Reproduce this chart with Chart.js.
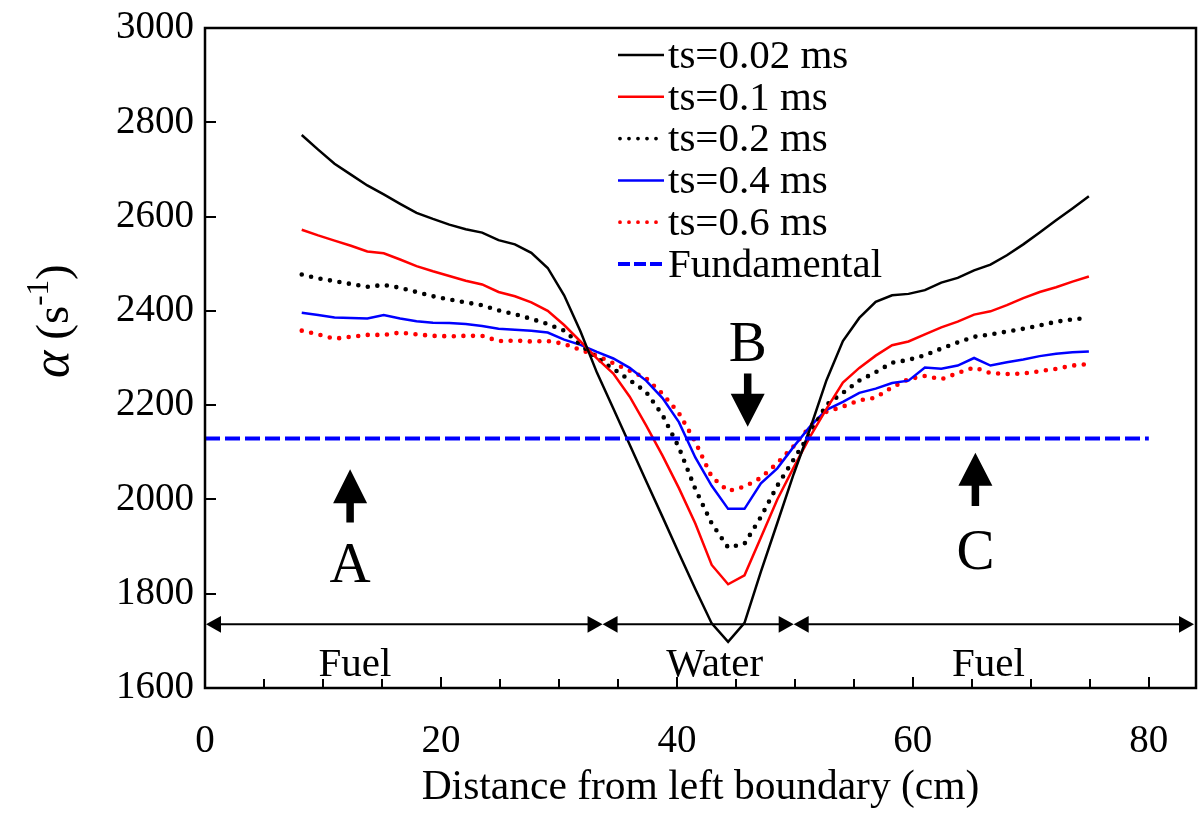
<!DOCTYPE html>
<html>
<head>
<meta charset="utf-8">
<script src="https://cdn.jsdelivr.net/npm/chart.js@4.4.0/dist/chart.umd.min.js"></script>
<style>
html, body { margin: 0; padding: 0; background: #fff; }
canvas { display: block; }
</style>
</head>
<body>
<canvas id="chart" width="1198" height="815"></canvas>
<script>
// positions along the core (cm)
const xCm = [8.2, 9.59, 10.98, 12.37, 13.76, 15.15, 16.54, 17.93, 19.32, 20.71, 22.1, 23.49, 24.88,
    26.27, 27.66, 29.05, 30.44, 31.83, 33.22, 34.61, 36.0, 37.39, 38.78, 40.17, 41.56, 42.95, 44.34,
    45.73, 47.12, 48.51, 49.9, 51.29, 52.68, 54.07, 55.46, 56.85, 58.24, 59.63, 61.02, 62.41, 63.8,
    65.19, 66.58, 67.97, 69.36, 70.75, 72.14, 73.53, 74.92];

const ts002 = [2773, 2742, 2712, 2689, 2666, 2647, 2627, 2608, 2595, 2583, 2573, 2566, 2550,
    2541, 2523, 2491, 2433, 2356, 2269, 2193, 2116, 2039, 1963, 1886, 1810, 1737, 1698,
    1738, 1847, 1950, 2054, 2150, 2253, 2336, 2385, 2419, 2433, 2436, 2444, 2460, 2470,
    2486, 2498, 2518, 2541, 2566, 2592, 2617, 2643];
const ts01 = [2572, 2560, 2549, 2538, 2526, 2522, 2509, 2495, 2484, 2474, 2464, 2456, 2440,
    2431, 2418, 2400, 2370, 2335, 2299, 2267, 2218, 2157, 2093, 2024, 1949, 1861, 1820,
    1839, 1919, 2000, 2068, 2133, 2192, 2248, 2279, 2305, 2327, 2335, 2350, 2365, 2377,
    2392, 2399, 2412, 2427, 2440, 2450, 2462, 2473];
const ts02 = [2477, 2469, 2463, 2457, 2451, 2455, 2449, 2440, 2431, 2424, 2418, 2412, 2401,
    2393, 2383, 2372, 2358, 2328, 2300, 2277, 2253, 2228, 2179, 2110, 2022, 1949, 1898,
    1906, 1963, 2029, 2085, 2140, 2201, 2226, 2252, 2270, 2290, 2296, 2306, 2320, 2333,
    2345, 2350, 2356, 2362, 2369, 2377, 2382, 2385];
const ts04 = [2396, 2391, 2386, 2385, 2384, 2391, 2384, 2378, 2375, 2374, 2372, 2368, 2362,
    2360, 2358, 2354, 2339, 2328, 2313, 2299, 2279, 2252, 2215, 2164, 2089, 2029, 1980,
    1980, 2034, 2066, 2112, 2155, 2190, 2207, 2226, 2235, 2247, 2252, 2280, 2277, 2284,
    2300, 2284, 2291, 2297, 2304, 2309, 2312, 2314];
const ts06 = [2358, 2350, 2341, 2345, 2349, 2349, 2354, 2350, 2347, 2346, 2347, 2347, 2336,
    2337, 2335, 2336, 2330, 2317, 2305, 2289, 2273, 2257, 2224, 2183, 2122, 2048, 2018,
    2027, 2046, 2077, 2113, 2155, 2186, 2197, 2210, 2216, 2238, 2255, 2262, 2255, 2268,
    2280, 2268, 2266, 2267, 2272, 2277, 2284, 2287];
const fundamentalX = [0, 80];
const fundamentalY = [2129, 2129];

const xTickValues = [0, 5, 10, 15, 20, 25, 30, 35, 40, 45, 50, 55, 60, 65, 70, 75, 80];
const yTickValues = [1600, 1800, 2000, 2200, 2400, 2600, 2800, 3000];

// annotations
const regionBounds = [0, 33.7, 49.9, 84];
const regionNames = ['Fuel', 'Water', 'Fuel'];
const regionLabelX = [12.7, 43.2, 66.4];
const regionLineY = 1735;
const regionLabelY = 1626;
const markerNames = ['A', 'B', 'C'];
const markerX = [12.3, 46.0, 65.3];
const markerTextY = [1825, 2294, 1852];
const arrowTipY = [2064, 2154, 2099];
const arrowBaseY = [1992, 2224, 2029];
const arrowTailY = [1951, 2267, 1986];

const FONT = '"Liberation Serif", "Times New Roman", serif';

function pts(xs, ys) {
    return xs.map((x, i) => ({ x: x, y: ys[i] }));
}

const dotted = [0, 9.6];

const datasets = [
    { label: 'ts=0.02 ms', data: pts(xCm, ts002), borderColor: '#000000', borderWidth: 2.5, borderDash: [] },
    { label: 'ts=0.1 ms', data: pts(xCm, ts01), borderColor: '#ff0000', borderWidth: 2.5, borderDash: [] },
    { label: 'ts=0.2 ms', data: pts(xCm, ts02), borderColor: '#000000', borderWidth: 4.6, borderDash: dotted, borderCapStyle: 'round' },
    { label: 'ts=0.4 ms', data: pts(xCm, ts04), borderColor: '#0000ff', borderWidth: 2.5, borderDash: [] },
    { label: 'ts=0.6 ms', data: pts(xCm, ts06), borderColor: '#ff0000', borderWidth: 4.6, borderDash: dotted, borderCapStyle: 'round' },
    { label: 'Fundamental', data: pts(fundamentalX, fundamentalY), borderColor: '#0000ff', borderWidth: 4, borderDash: [15, 5], order: -1 }
];
datasets.forEach(d => {
    d.pointRadius = 0;
    d.tension = 0;
    d.fill = false;
});

function upDownArrow(ctx, px, tip, base, tail, halfW, shaftW) {
    ctx.beginPath();
    ctx.moveTo(px, tip);
    ctx.lineTo(px + halfW, base);
    ctx.lineTo(px + shaftW / 2, base);
    ctx.lineTo(px + shaftW / 2, tail);
    ctx.lineTo(px - shaftW / 2, tail);
    ctx.lineTo(px - shaftW / 2, base);
    ctx.lineTo(px - halfW, base);
    ctx.closePath();
    ctx.fill();
}

function sideHead(ctx, tipX, py, dir) {
    // dir = -1 points left, +1 points right
    ctx.beginPath();
    ctx.moveTo(tipX, py);
    ctx.lineTo(tipX - dir * 15, py - 8.3);
    ctx.lineTo(tipX - dir * 15, py + 8.3);
    ctx.closePath();
    ctx.fill();
}

const decorPlugin = {
    id: 'decor',
    afterDatasetsDraw(chart) {
        const { ctx, chartArea: a, scales: { x, y } } = chart;
        ctx.save();
        ctx.strokeStyle = '#000';
        ctx.fillStyle = '#000';

        // frame
        ctx.lineWidth = 2.5;
        ctx.strokeRect(a.left, a.top, a.right - a.left, a.bottom - a.top);

        // inward ticks
        ctx.lineWidth = 2;
        xTickValues.forEach(v => {
            const px = Math.round(x.getPixelForValue(v));
            const len = v % 20 === 0 ? 11 : 9;
            ctx.beginPath();
            ctx.moveTo(px, a.bottom);
            ctx.lineTo(px, a.bottom - len);
            ctx.stroke();
        });
        yTickValues.forEach(v => {
            const py = Math.round(y.getPixelForValue(v));
            ctx.beginPath();
            ctx.moveTo(a.left, py);
            ctx.lineTo(a.left + 11, py);
            ctx.stroke();
        });

        // region arrows
        const ly = y.getPixelForValue(regionLineY);
        ctx.lineWidth = 2;
        for (let i = 0; i < regionBounds.length - 1; i++) {
            const x0 = x.getPixelForValue(regionBounds[i]) + (i === 0 ? 1 : 0);
            const x1 = x.getPixelForValue(regionBounds[i + 1]) - (i === regionBounds.length - 2 ? 2 : 0);
            ctx.beginPath();
            ctx.moveTo(x0 + 6, ly);
            ctx.lineTo(x1 - 6, ly);
            ctx.stroke();
            sideHead(ctx, x0, ly, -1);
            sideHead(ctx, x1, ly, 1);
        }
        ctx.font = '41px ' + FONT;
        ctx.textAlign = 'center';
        ctx.textBaseline = 'alphabetic';
        regionNames.forEach((n, i) => {
            ctx.fillText(n, x.getPixelForValue(regionLabelX[i]), y.getPixelForValue(regionLabelY));
        });

        // A, B, C markers
        ctx.font = '57px ' + FONT;
        markerNames.forEach((n, i) => {
            const px = x.getPixelForValue(markerX[i]);
            ctx.fillText(n, px, y.getPixelForValue(markerTextY[i]));
            upDownArrow(ctx, px, y.getPixelForValue(arrowTipY[i]), y.getPixelForValue(arrowBaseY[i]),
                y.getPixelForValue(arrowTailY[i]), 17, 7.5);
        });

        // legend
        const lx0 = 618, lx1 = 664, ly0 = 55, step = 41.8;
        ctx.textAlign = 'left';
        ctx.textBaseline = 'middle';
        chart.data.datasets.forEach((d, i) => {
            const ry = ly0 + i * step;
            ctx.save();
            ctx.strokeStyle = d.borderColor;
            ctx.lineCap = d.borderCapStyle || 'butt';
            if (d.borderDash === dotted) {
                ctx.lineWidth = 3.8;
                ctx.setLineDash([0, 9]);
                ctx.beginPath();
                ctx.moveTo(lx0 + 2, ry);
                ctx.lineTo(lx1 - 6, ry);
            } else if (d.borderDash.length) {
                ctx.lineWidth = 4;
                ctx.setLineDash([12, 4]);
                ctx.beginPath();
                ctx.moveTo(lx0, ry);
                ctx.lineTo(lx1 + 2, ry);
            } else {
                ctx.lineWidth = 2.5;
                ctx.beginPath();
                ctx.moveTo(lx0, ry);
                ctx.lineTo(lx1, ry);
            }
            ctx.stroke();
            ctx.restore();
            ctx.font = '41px ' + FONT;
            ctx.fillStyle = '#000';
            ctx.fillText(d.label, 668, ry + 2);
        });

        // y axis title: alpha (s^-1)
        ctx.save();
        ctx.translate(68, 378);
        ctx.rotate(-Math.PI / 2);
        ctx.textAlign = 'left';
        ctx.textBaseline = 'alphabetic';
        ctx.font = 'italic 52px ' + FONT;
        ctx.fillText('α', 0, 0);
        let w = ctx.measureText('α').width + 11;
        ctx.font = '47px ' + FONT;
        ctx.fillText('(s', w, 0);
        w += ctx.measureText('(s').width;
        ctx.font = '31px ' + FONT;
        ctx.fillText('-1', w, -20);
        w += ctx.measureText('-1').width;
        ctx.font = '47px ' + FONT;
        ctx.fillText(')', w, 0);
        ctx.restore();

        ctx.restore();
    }
};

new Chart(document.getElementById('chart'), {
    type: 'line',
    data: { datasets: datasets },
    options: {
        responsive: false,
        animation: false,
        layout: { padding: { top: 28, right: 2, left: 0, bottom: 0 } },
        plugins: { legend: { display: false }, tooltip: { enabled: false } },
        scales: {
            x: {
                type: 'linear',
                min: 0,
                max: 84,
                afterBuildTicks: s => { s.ticks = xTickValues.map(v => ({ value: v })); },
                afterFit: s => { s.height = 127; s.paddingLeft = 0; s.paddingRight = 0; },
                grid: { display: false, drawTicks: false },
                border: { display: false },
                ticks: {
                    color: '#000',
                    font: { family: FONT, size: 39 },
                    padding: 30,
                    maxRotation: 0,
                    autoSkip: false,
                    callback: v => (v % 20 === 0 ? String(v) : '')
                },
                title: {
                    display: true,
                    text: 'Distance from left boundary (cm)',
                    color: '#000',
                    font: { family: FONT, size: 41.5 },
                    padding: { top: 0, bottom: 2 }
                }
            },
            y: {
                type: 'linear',
                min: 1600,
                max: 3000,
                afterBuildTicks: s => { s.ticks = yTickValues.map(v => ({ value: v })); },
                afterFit: s => { s.width = 205; s.paddingTop = 0; s.paddingBottom = 0; },
                grid: { display: false, drawTicks: false },
                border: { display: false },
                ticks: {
                    color: '#000',
                    font: { family: FONT, size: 39 },
                    padding: 11,
                    callback: v => String(v)
                }
            }
        }
    },
    plugins: [decorPlugin]
});
</script>
</body>
</html>
